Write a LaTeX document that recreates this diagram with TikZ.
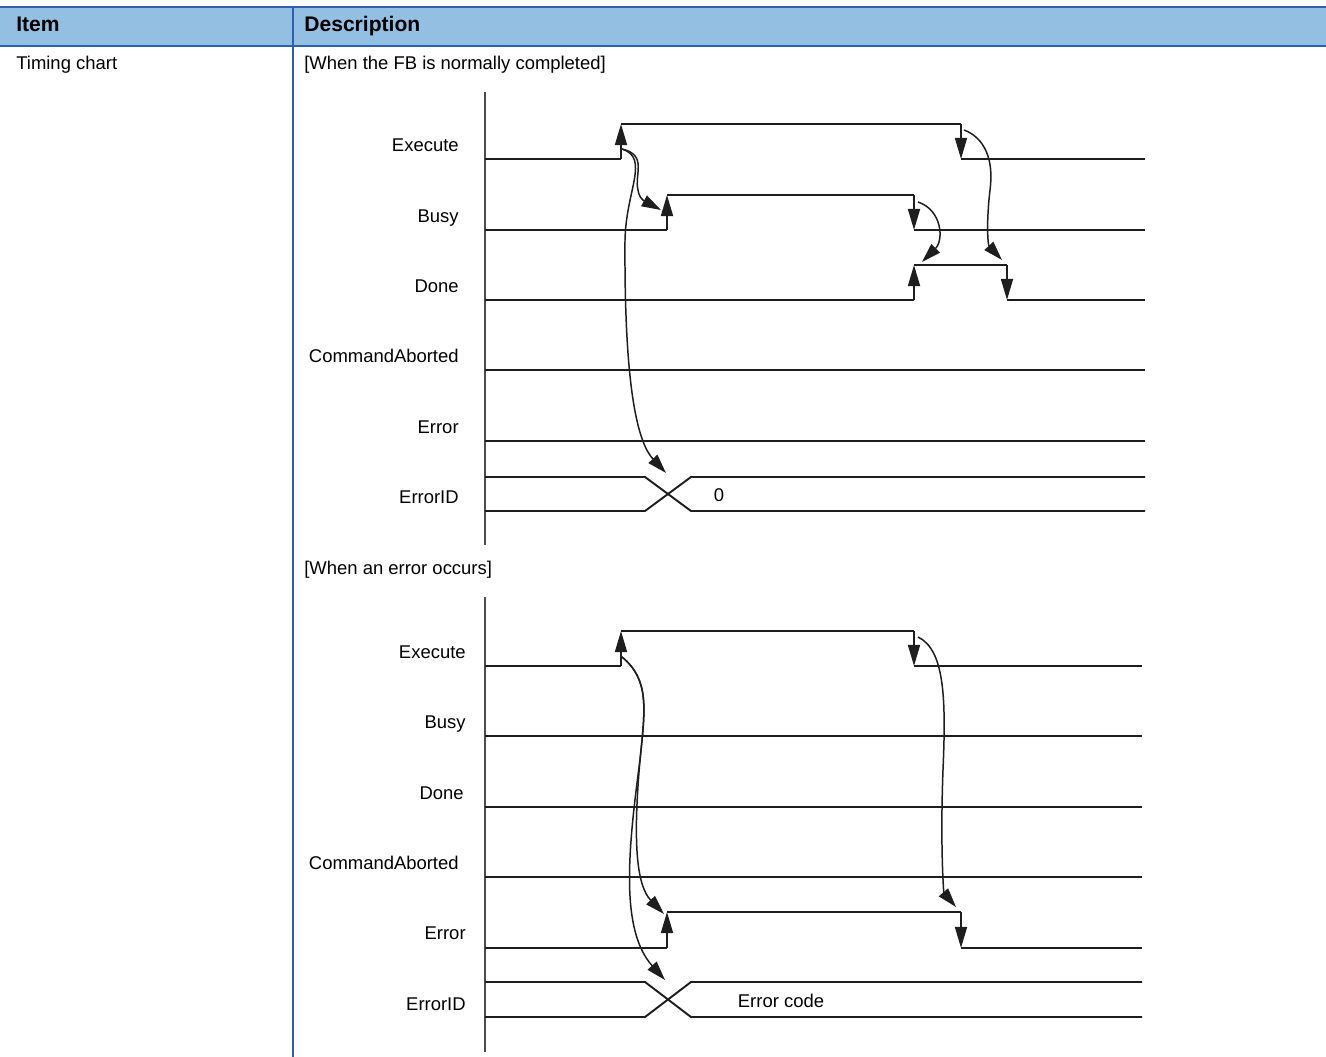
\documentclass[tikz,border=0pt]{standalone}
\usepackage{fontspec}
\setmainfont{Liberation Sans}
\usetikzlibrary{arrows.meta}
\definecolor{headblue}{HTML}{93BFE3}
\definecolor{ruleblue}{HTML}{2E60AC}
\definecolor{wavegray}{HTML}{1E1E1E}
\definecolor{axisgray}{HTML}{4D4D4D}

\begin{document}
\begin{tikzpicture}[
    x=0.02cm, y=-0.02cm,
    font=\fontsize{10.5}{12}\selectfont,
    wave/.style={line width=1.1pt, color=wavegray},
    edgearr/.style={wave, -{Triangle[length=12pt, width=6.8pt]}},
    flow/.style={line width=0.85pt, color=wavegray, -{Triangle[length=11pt, width=6.8pt]}},
    axisline/.style={line width=0.9pt, color=axisgray},
    siglabel/.style={anchor=east, inner sep=0pt, text height=0.72em, text depth=0pt},
    celltext/.style={anchor=west, inner sep=0pt, text height=0.72em, text depth=0pt},
    headtext/.style={celltext, font=\fontsize{12}{14}\selectfont\bfseries},
]
\useasboundingbox (0,0) rectangle (1326,1057);

% Table header
\fill[headblue] (0,7) rectangle (1326,46);
\draw[ruleblue, line width=1.2pt] (0,7) -- (1326,7) (0,46) -- (1326,46);
\draw[ruleblue, line width=1.2pt] (293,7) -- (293,1057);
\node[headtext] (item) at (16,25) {Item};
\node[headtext] (descr) at (304,25) {Description};
\node[celltext] (timing) at (16,63) {Timing chart};

% ---------- Normal completion ----------
\node[celltext] (normal) at (304,63) {[When the FB is normally completed]};
\draw[axisline] (485,92) -- (485,545);

\node[siglabel] (exeA) at (459,145) {Execute};
\node[siglabel] (busyA) at (459,216) {Busy};
\node[siglabel] (doneA) at (459,286) {Done};
\node[siglabel] (abortA) at (459,356) {CommandAborted};
\node[siglabel] (errA) at (459,427) {Error};
\node[siglabel] (idA) at (459,497) {ErrorID};

% Execute
\draw[wave] (485,159) -- (621,159) (621,124) -- (961,124) (961,159) -- (1145,159);
\draw[edgearr] (621,159) -- (621,124);
\draw[edgearr] (961,124) -- (961,159);
% Busy
\draw[wave] (485,230) -- (667,230) (667,195) -- (914,195) (914,230) -- (1145,230);
\draw[edgearr] (667,230) -- (667,195);
\draw[edgearr] (914,195) -- (914,230);
% Done
\draw[wave] (485,300) -- (914,300) (914,265) -- (1007,265) (1007,300) -- (1145,300);
\draw[edgearr] (914,300) -- (914,265);
\draw[edgearr] (1007,265) -- (1007,300);
% CommandAborted, Error
\draw[wave] (485,370) -- (1145,370);
\draw[wave] (485,441) -- (1145,441);
% ErrorID
\draw[wave] (485,477) -- (645,477) -- (691,511) -- (1145,511);
\draw[wave] (485,511) -- (645,511) -- (691,477) -- (1145,477);
\node (zeroA) at (719,495) {0};

% Causal arrows
\coordinate (exeRiseA) at (622,149);
\coordinate (busyRiseA) at (661,210);
\coordinate (idCrossA) at (666,473);
\coordinate (busyFallA) at (918,202);
\coordinate (doneRiseA) at (922,262);
\coordinate (exeFallA) at (964,130);
\coordinate (doneFallA) at (1002,260);
\draw[flow] (exeRiseA) .. controls (648,155) and (634,175) .. (638,190)
    .. controls (639,200) and (648,203) .. (busyRiseA);
\draw[flow] (exeRiseA) .. controls (650,158) and (626,190) .. (625,240)
    .. controls (624,400) and (640,445) .. (idCrossA);
\draw[flow] (busyFallA) .. controls (942,210) and (944,240) .. (doneRiseA);
\draw[flow] (exeFallA) .. controls (985,138) and (994,160) .. (990,190)
    .. controls (986,225) and (988,245) .. (doneFallA);

% ---------- Error occurrence ----------
\node[celltext] (error) at (304,568) {[When an error occurs]};
\draw[axisline] (485,597) -- (485,1052);

\node[siglabel] (exeB) at (466,652) {Execute};
\node[siglabel] (busyB) at (466,722) {Busy};
\node[siglabel] (doneB) at (464,793) {Done};
\node[siglabel] (abortB) at (459,863) {CommandAborted};
\node[siglabel] (errB) at (466,933) {Error};
\node[siglabel] (idB) at (466,1004) {ErrorID};

% Execute
\draw[wave] (485,666) -- (621,666) (621,631) -- (914,631) (914,666) -- (1142,666);
\draw[edgearr] (621,666) -- (621,631);
\draw[edgearr] (914,631) -- (914,666);
% Busy, Done, CommandAborted
\draw[wave] (485,736) -- (1142,736);
\draw[wave] (485,807) -- (1142,807);
\draw[wave] (485,877) -- (1142,877);
% Error
\draw[wave] (485,948) -- (667,948) (667,912) -- (961,912) (961,948) -- (1142,948);
\draw[edgearr] (667,948) -- (667,912);
\draw[edgearr] (961,912) -- (961,948);
% ErrorID
\draw[wave] (485,982) -- (645,982) -- (691,1017) -- (1142,1017);
\draw[wave] (485,1017) -- (645,1017) -- (691,982) -- (1142,982);
\node (codeB) at (781,1001) {Error code};

% Causal arrows
\coordinate (exeRiseB) at (622,657);
\coordinate (errRiseB) at (664,914);
\coordinate (idCrossB) at (665,980);
\coordinate (exeFallB) at (918,637);
\coordinate (errFallB) at (956,907);
\draw[flow] (exeRiseB) .. controls (650,680) and (645,710) .. (640,760)
    .. controls (633,840) and (636,885) .. (errRiseB);
\draw[flow] (exeRiseB) .. controls (650,680) and (645,710) .. (640,760)
    .. controls (628,850) and (620,930) .. (idCrossB);
\draw[flow] (exeFallB) .. controls (945,650) and (946,700) .. (943,770)
    .. controls (940,850) and (944,893) .. (errFallB);

\end{tikzpicture}
\end{document}
